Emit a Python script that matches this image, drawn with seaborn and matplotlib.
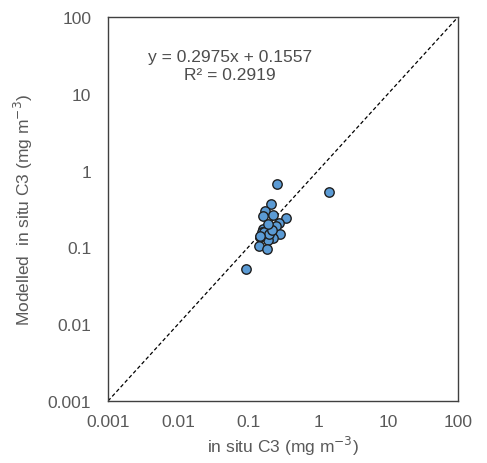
import matplotlib
matplotlib.use("Agg")
import matplotlib.pyplot as plt
import seaborn as sns
import pandas as pd
import numpy as np

insitu = [0.257, 1.45, 0.213, 0.175, 0.162, 0.23, 0.349, 0.28, 0.251, 0.165, 0.185,
          0.206, 0.157, 0.175, 0.286, 0.23, 0.195, 0.148, 0.145, 0.189, 0.095,
          0.17, 0.2, 0.22, 0.15, 0.19]
modelled = [0.67, 0.53, 0.371, 0.30, 0.254, 0.264, 0.239, 0.208, 0.188, 0.174, 0.165,
            0.174, 0.157, 0.149, 0.148, 0.131, 0.126, 0.135, 0.105, 0.095, 0.052,
            0.16, 0.15, 0.17, 0.14, 0.2]
tick_vals = [0.001, 0.01, 0.1, 1, 10, 100]
tick_labels = ["0.001", "0.01", "0.1", "1", "10", "100"]

df = pd.DataFrame({"insitu": insitu, "modelled": modelled})

sns.set_theme(style="white")
plt.rcParams['font.family'] = ['Liberation Sans', 'DejaVu Sans']

fig = plt.figure(figsize=(4.87, 4.64), dpi=100)
ax = fig.add_axes([0.2218, 0.1336, 0.7187, 0.8276])

ax.plot([0.001, 100], [0.001, 100], linestyle=(0, (3, 2)), color="black", linewidth=0.9, zorder=1)
sns.scatterplot(data=df, x="insitu", y="modelled", ax=ax, s=46, color="#5B9BD5",
                edgecolor="#1F1F1F", linewidth=1.0, zorder=3)

ax.set_xscale("log")
ax.set_yscale("log")
ax.set_xlim(0.001, 100)
ax.set_ylim(0.001, 100)
ax.set_xticks(tick_vals)
ax.set_xticklabels(tick_labels)
ax.set_yticks(tick_vals)
ax.set_yticklabels(tick_labels)
ax.minorticks_off()
ax.tick_params(axis="x", length=0, labelsize=12.5, labelcolor="#595959", pad=9)
ax.tick_params(axis="y", length=0, labelsize=12.5, labelcolor="#595959", pad=12)

for sp in ax.spines.values():
    sp.set_color("#404040")
    sp.set_linewidth(1.0)

ax.set_xlabel("in situ C3 (mg m$^{-3}$)", fontsize=12.5, color="#595959", labelpad=4)
ax.set_ylabel("Modelled  in situ C3 (mg m$^{-3}$)", fontsize=12.5, color="#595959", labelpad=9)

ax.text(0.349, 0.897, "y = 0.2975x + 0.1557", transform=ax.transAxes, ha="center", va="center",
        fontsize=12.5, color="#4D4D4D")
ax.text(0.349, 0.850, "R² = 0.2919", transform=ax.transAxes, ha="center", va="center",
        fontsize=12.5, color="#4D4D4D")

fig.savefig("out.png", dpi=100)
